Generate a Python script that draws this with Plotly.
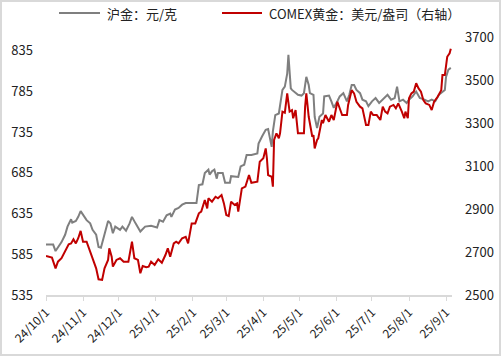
import plotly.graph_objects as go

# 沪金 (元/克)
sh_dates = ["2024-10-01","2024-10-07","2024-10-09","2024-10-11","2024-10-14","2024-10-17","2024-10-19","2024-10-22",
"2024-10-23","2024-10-26","2024-10-28","2024-10-30","2024-11-01","2024-11-04","2024-11-07","2024-11-09",
"2024-11-12","2024-11-14","2024-11-16","2024-11-17","2024-11-20","2024-11-22","2024-11-24","2024-11-26",
"2024-11-28","2024-12-02","2024-12-04","2024-12-07","2024-12-10","2024-12-12","2024-12-15","2024-12-19",
"2024-12-23","2024-12-28","2025-01-02","2025-01-04","2025-01-07","2025-01-10","2025-01-13","2025-01-14",
"2025-01-17","2025-01-20","2025-01-23","2025-01-26","2025-01-31","2025-02-04","2025-02-06","2025-02-09",
"2025-02-11","2025-02-14","2025-02-15","2025-02-17","2025-02-19","2025-02-21","2025-02-22","2025-02-26",
"2025-02-28","2025-03-04","2025-03-05","2025-03-09","2025-03-11","2025-03-13","2025-03-16","2025-03-18",
"2025-03-22","2025-03-27","2025-03-28","2025-03-31","2025-04-03","2025-04-05","2025-04-08","2025-04-09",
"2025-04-11","2025-04-14","2025-04-17","2025-04-19","2025-04-21","2025-04-22","2025-04-24","2025-04-25",
"2025-04-28","2025-04-30","2025-05-03","2025-05-05","2025-05-07","2025-05-09","2025-05-10","2025-05-13",
"2025-05-14","2025-05-16","2025-05-18","2025-05-21","2025-05-22","2025-05-26","2025-05-28","2025-05-30",
"2025-06-02","2025-06-04","2025-06-07","2025-06-10","2025-06-12","2025-06-14","2025-06-16","2025-06-18",
"2025-06-21","2025-06-23","2025-06-26","2025-06-28","2025-07-01","2025-07-04","2025-07-07","2025-07-10",
"2025-07-14","2025-07-17","2025-07-20","2025-07-22","2025-07-24","2025-07-27","2025-07-30","2025-08-01",
"2025-08-04","2025-08-07","2025-08-10","2025-08-14","2025-08-17","2025-08-20","2025-08-23","2025-08-26",
"2025-08-28","2025-08-31","2025-09-01","2025-09-03","2025-09-05"]
sh_values = [597,597,589,593,600,609,619,628,
624,626,631,638,633,627,623,615,
609,594,593,599,615,626,623,611,
619,615,619,614,623,631,623,613,
619,620,618,627,625,633,635,631,
640,642,646,648,648,648,670,671,
685,689,683,687,689,678,685,685,
673,673,681,680,680,693,695,707,
707,709,721,730,738,739,717,736,
756,758,787,791,807,830,789,787,
784,781,780,783,803,793,783,781,
754,740,754,758,779,780,773,765,
773,779,783,773,781,793,793,787,
783,775,773,767,773,777,771,775,
781,775,777,791,773,775,771,775,
779,785,777,775,773,775,773,781,
783,787,803,812,814]

# COMEX黄金 (美元/盎司)
cx_dates = ["2024-10-01","2024-10-06","2024-10-09","2024-10-11","2024-10-14","2024-10-17","2024-10-20","2024-10-22",
"2024-10-24","2024-10-26","2024-10-28","2024-10-30","2024-11-01","2024-11-04","2024-11-07","2024-11-09",
"2024-11-12","2024-11-14","2024-11-17","2024-11-19","2024-11-22","2024-11-23","2024-11-25","2024-11-26",
"2024-11-29","2024-12-02","2024-12-05","2024-12-09","2024-12-12","2024-12-14","2024-12-17","2024-12-19",
"2024-12-21","2024-12-24","2024-12-26","2024-12-28","2024-12-31","2025-01-03","2025-01-06","2025-01-09",
"2025-01-11","2025-01-13","2025-01-16","2025-01-18","2025-01-20","2025-01-23","2025-01-26","2025-01-28",
"2025-01-31","2025-02-03","2025-02-06","2025-02-08","2025-02-11","2025-02-13","2025-02-14","2025-02-17",
"2025-02-20","2025-02-22","2025-02-25","2025-02-27","2025-03-01","2025-03-03","2025-03-05","2025-03-08",
"2025-03-10","2025-03-11","2025-03-14","2025-03-17","2025-03-20","2025-03-22","2025-03-27","2025-03-29",
"2025-04-01","2025-04-03","2025-04-04","2025-04-05","2025-04-08","2025-04-09","2025-04-10","2025-04-12",
"2025-04-14","2025-04-15","2025-04-17","2025-04-19","2025-04-21","2025-04-23","2025-04-25","2025-04-26",
"2025-04-28","2025-04-30","2025-05-05","2025-05-06","2025-05-07","2025-05-09","2025-05-12","2025-05-13",
"2025-05-14","2025-05-16","2025-05-17","2025-05-20","2025-05-21","2025-05-23","2025-05-26","2025-05-28",
"2025-05-30","2025-06-02","2025-06-04","2025-06-06","2025-06-10","2025-06-11","2025-06-14","2025-06-16",
"2025-06-18","2025-06-21","2025-06-23","2025-06-26","2025-06-28","2025-06-30","2025-07-02","2025-07-05",
"2025-07-08","2025-07-10","2025-07-12","2025-07-14","2025-07-16","2025-07-19","2025-07-21","2025-07-23",
"2025-07-26","2025-07-28","2025-07-29","2025-07-31","2025-08-01","2025-08-03","2025-08-05","2025-08-07",
"2025-08-09","2025-08-11","2025-08-13","2025-08-15","2025-08-18","2025-08-20","2025-08-22","2025-08-25",
"2025-08-28","2025-08-29","2025-08-31","2025-09-02","2025-09-04","2025-09-05"]
cx_values = [2681,2674,2624,2655,2671,2701,2736,2740,
2759,2740,2764,2798,2748,2748,2701,2671,
2624,2573,2570,2624,2663,2717,2678,2632,
2663,2671,2655,2655,2748,2671,2663,2601,
2635,2629,2632,2655,2640,2666,2650,2686,
2717,2678,2740,2748,2740,2764,2771,2740,
2833,2833,2880,2888,2942,2903,2950,2934,
2957,2950,2965,2926,2872,2867,2934,2919,
2926,2888,2996,3004,3058,3022,3027,3120,
3136,3182,3136,3058,3050,3004,3221,3252,
3229,3252,3353,3348,3438,3353,3360,3322,
3360,3252,3252,3376,3438,3329,3236,3244,
3182,3221,3229,3314,3299,3337,3306,3337,
3314,3399,3368,3337,3337,3384,3453,3438,
3399,3376,3368,3291,3291,3353,3337,3337,
3314,3376,3353,3345,3376,3384,3368,3391,
3353,3322,3353,3322,3415,3438,3446,3485,
3461,3446,3407,3391,3384,3360,3399,3422,
3453,3523,3523,3608,3624,3645]

tick_dates = ["2024-10-01","2024-11-01","2024-12-01","2025-01-01","2025-02-01","2025-03-01",
              "2025-04-01","2025-05-01","2025-06-01","2025-07-01","2025-08-01","2025-09-01"]
tick_text = ["24/10/1","24/11/1","24/12/1","25/1/1","25/2/1","25/3/1",
             "25/4/1","25/5/1","25/6/1","25/7/1","25/8/1","25/9/1"]

names = ["沪金：元/克", "COMEX黄金：美元/盎司（右轴）"]
colors = ["#7f7f7f", "#c00000"]

FONT = "Noto Sans CJK SC"
L, R, T, B = 46, 49, 37, 61
W, H = 501, 356
PW, PH = W - L - R, H - T - B

def px(x):
    return (x - L) / PW

def py(y):
    return (H - B - y) / PH

fig = go.Figure()
fig.add_trace(go.Scatter(x=sh_dates, y=sh_values, mode="lines", name=names[0],
                         line=dict(color=colors[0], width=2), showlegend=False))
fig.add_trace(go.Scatter(x=cx_dates, y=cx_values, mode="lines", name=names[1],
                         line=dict(color=colors[1], width=2), yaxis="y2", showlegend=False))

shapes = [dict(type="rect", xref="paper", yref="paper",
               x0=px(1), x1=px(500), y0=py(355), y1=py(1),
               line=dict(color="#d9d9d9", width=2), fillcolor="rgba(0,0,0,0)", layer="below")]
annotations = []
leg = [(59, 100, 105), (222, 262, 267)]
for (x0, x1, xt), name, col in zip(leg, names, colors):
    shapes.append(dict(type="line", xref="paper", yref="paper", x0=px(x0), x1=px(x1),
                       y0=py(13), y1=py(13), line=dict(color=col, width=2)))
    annotations.append(dict(xref="paper", yref="paper", x=px(xt), y=py(13), text=name,
                            showarrow=False, xanchor="left", yanchor="middle",
                            font=dict(size=13, color="#222")))

fig.update_layout(
    width=W, height=H,
    margin=dict(l=L, r=R, t=T, b=B),
    paper_bgcolor="white", plot_bgcolor="white",
    font=dict(family=FONT, size=13, color="#222"),
    showlegend=False,
    xaxis=dict(type="date", range=["2024-10-01", "2025-09-06"], automargin=False,
               tickvals=tick_dates, ticktext=tick_text, tickangle=-45,
               showline=True, linecolor="#d9d9d9", linewidth=1.5,
               ticks="outside", ticklen=4, tickcolor="#d9d9d9",
               showgrid=False, zeroline=False, tickfont=dict(size=12)),
    yaxis=dict(range=[535, 852], tick0=535, dtick=50, showgrid=False, zeroline=False,
               showline=False, ticks="", ticklabelstandoff=12, automargin=False),
    yaxis2=dict(range=[2500, 3700], tick0=2500, dtick=200, overlaying="y", side="right",
                showgrid=False, zeroline=False, showline=False, ticks="", ticklabelstandoff=12,
                automargin=False),
    shapes=shapes,
    annotations=annotations,
)

fig.write_html("out.html", config={"displayModeBar": False},
               post_script="document.body.style.margin='0';document.body.style.overflow='hidden';")
